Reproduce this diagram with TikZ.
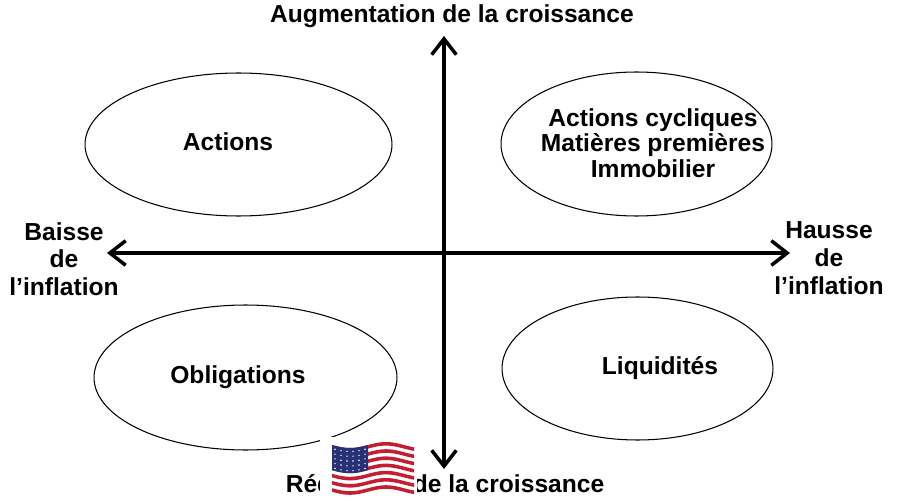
\documentclass[tikz,border=0pt]{standalone}
\usepackage{fontspec}
\setmainfont{Liberation Sans}
\usepackage{xcolor}
\usetikzlibrary{shapes.geometric}
\usetikzlibrary{arrows.meta}

\definecolor{rouge}{RGB}{196,30,48}
\definecolor{bleu}{RGB}{40,48,118}

\begin{document}
\begin{tikzpicture}[x=0.02cm, y=-0.02cm,
        bulle/.style={draw, ellipse, line width=0.6pt, inner sep=0pt},
        etiq/.style={font=\fontsize{14}{14.4}\selectfont\bfseries, align=center},
        cote/.style={font=\fontsize{14}{15.8}\selectfont\bfseries, align=center},
        axe/.style={line width=2pt,
            {Straight Barb[length=9pt, width=14pt]}-{Straight Barb[length=9pt, width=14pt]}}]
        \useasboundingbox (0, 0) rectangle (900, 500);

        % les quatre bulles
        \node[bulle, minimum width=6.14cm, minimum height=2.86cm] (actions) at (238.5, 144.5) {};
        \node[bulle, minimum width=5.42cm, minimum height=2.88cm] (cycliques) at (636.5, 144) {};
        \node[bulle, minimum width=6.06cm, minimum height=2.9cm] (obligations) at (245.5, 377.5) {};
        \node[bulle, minimum width=5.42cm, minimum height=2.86cm] (liquidites) at (637.5, 368.5) {};

        \node[etiq] (tactions) at (228, 142) {Actions};
        \node[etiq] (tcycliques) at (653, 143) {Actions cycliques\\Matières premières\\Immobilier};
        \node[etiq] (tobligations) at (238, 377) {Obligations};
        \node[etiq] (tliquidites) at (660, 368) {Liquidités};

        % les axes
        \coordinate (haut) at (444, 36);
        \coordinate (bas) at (444, 469);
        \coordinate (gauche) at (107, 253);
        \coordinate (droite) at (790, 253);
        \draw[axe] (bas) -- (haut);
        \draw[axe] (gauche) -- (droite);

        \node[etiq] (croissance) at (452, 16) {Augmentation de la croissance};
        \node[etiq] (reduction) at (445, 484) {Réduction de la croissance};
        \node[cote] (baisse) at (64, 259) {Baisse\\de\\l’inflation};
        \node[cote] (hausse) at (829, 258) {Hausse\\de\\l’inflation};

        % le drapeau
        \fill[white] (320, 437) rectangle (417, 500);
        \foreach \i in {0, 2, ..., 12}
            \fill[rouge] plot[domain=332:414, samples=25] (\x, {445 + \i*3.6 + 3*sin((\x - 332)*5)})
                -- plot[domain=414:332, samples=25] (\x, {445 + (\i + 1)*3.6 + 3*sin((\x - 332)*5)}) -- cycle;
        \fill[bleu] plot[domain=332:368, samples=15] (\x, {445 + 3*sin((\x - 332)*5)})
            -- plot[domain=368:332, samples=15] (\x, {445 + 7*3.6 + 3*sin((\x - 332)*5)}) -- cycle;
        \foreach \a in {0, ..., 5}
            \foreach \b in {0, ..., 4}
                \fill[white] ({335 + \a*6}, {448.5 + \b*4.8 + 3*sin((3 + \a*6)*5)}) circle (0.45pt);
    \end{tikzpicture}
\end{document}
